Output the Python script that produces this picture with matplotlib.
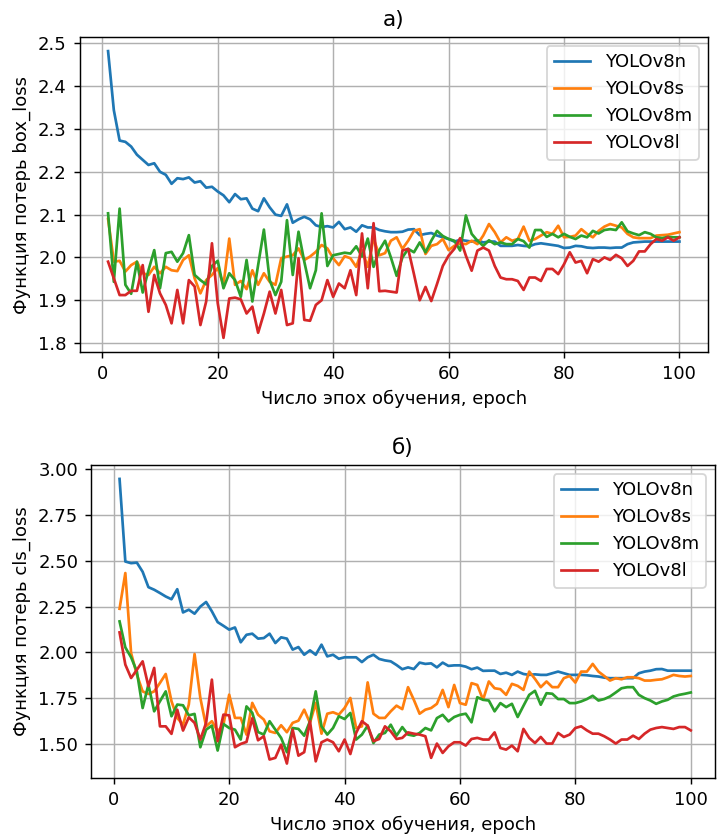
import matplotlib
matplotlib.use("Agg")
import matplotlib.pyplot as plt
import numpy as np

epochs = np.arange(1, 101)
labels = ["YOLOv8n", "YOLOv8s", "YOLOv8m", "YOLOv8l"]

box_n = [2.482, 2.344, 2.273, 2.270, 2.259, 2.240, 2.228, 2.216, 2.220, 2.200,
         2.193, 2.172, 2.185, 2.183, 2.187, 2.175, 2.178, 2.163, 2.165, 2.154,
         2.145, 2.129, 2.148, 2.136, 2.138, 2.114, 2.108, 2.138, 2.117, 2.100,
         2.097, 2.124, 2.081, 2.089, 2.095, 2.089, 2.075, 2.071, 2.073, 2.070,
         2.083, 2.066, 2.070, 2.060, 2.075, 2.070, 2.070, 2.064, 2.061, 2.059,
         2.059, 2.060, 2.065, 2.066, 2.052, 2.055, 2.057, 2.051, 2.047, 2.043,
         2.037, 2.041, 2.039, 2.037, 2.040, 2.035, 2.037, 2.037, 2.027, 2.027,
         2.027, 2.029, 2.027, 2.026, 2.031, 2.033, 2.031, 2.029, 2.027, 2.022,
         2.023, 2.027, 2.026, 2.023, 2.022, 2.023, 2.023, 2.022, 2.023, 2.023,
         2.031, 2.035, 2.036, 2.037, 2.037, 2.037, 2.037, 2.037, 2.037, 2.037]
box_s = [2.090, 1.990, 1.992, 1.967, 1.982, 1.990, 1.963, 1.959, 1.978, 1.963,
         1.978, 1.970, 1.968, 1.994, 2.005, 1.951, 1.916, 1.947, 1.959, 1.975,
         1.936, 2.044, 1.936, 1.945, 1.926, 1.970, 1.936, 1.963, 1.943, 1.936,
         1.998, 2.002, 2.005, 2.021, 1.994, 2.002, 2.013, 2.029, 2.021, 1.998,
         1.982, 2.003, 1.998, 1.978, 2.017, 1.978, 2.044, 2.005, 2.010, 2.039,
         2.047, 2.020, 2.039, 2.062, 2.066, 2.008, 2.027, 2.031, 2.043, 2.017,
         2.027, 2.033, 2.031, 2.039, 2.031, 2.051, 2.078, 2.059, 2.035, 2.047,
         2.039, 2.043, 2.072, 2.039, 2.043, 2.051, 2.059, 2.055, 2.074, 2.047,
         2.048, 2.051, 2.066, 2.055, 2.047, 2.062, 2.072, 2.078, 2.074, 2.070,
         2.055, 2.047, 2.045, 2.045, 2.045, 2.051, 2.052, 2.053, 2.056, 2.059]
box_m = [2.103, 1.943, 2.114, 1.936, 1.915, 1.990, 1.918, 1.970, 2.017, 1.928,
         2.010, 2.013, 1.990, 2.010, 2.052, 1.959, 1.947, 1.937, 1.980, 1.992,
         1.928, 1.963, 1.947, 1.908, 1.994, 1.897, 1.982, 2.065, 1.947, 1.912,
         1.943, 2.087, 1.959, 2.060, 1.990, 1.928, 1.970, 2.103, 1.980, 2.005,
         2.008, 2.011, 2.009, 2.026, 2.002, 2.044, 1.978, 2.017, 2.039, 2.000,
         1.957, 2.000, 2.020, 2.012, 2.035, 2.012, 2.039, 2.062, 2.050, 2.043,
         2.039, 2.016, 2.098, 2.055, 2.039, 2.027, 2.040, 2.031, 2.035, 2.031,
         2.031, 2.043, 2.038, 2.023, 2.064, 2.064, 2.048, 2.055, 2.047, 2.055,
         2.048, 2.043, 2.051, 2.047, 2.062, 2.056, 2.064, 2.066, 2.064, 2.082,
         2.061, 2.056, 2.052, 2.059, 2.055, 2.047, 2.045, 2.048, 2.047, 2.047]
box_l = [1.990, 1.951, 1.912, 1.912, 1.922, 1.922, 1.982, 1.873, 1.959, 1.916,
         1.889, 1.846, 1.924, 1.846, 1.947, 1.932, 1.842, 1.897, 2.033, 1.893,
         1.812, 1.904, 1.906, 1.902, 1.869, 1.885, 1.824, 1.869, 1.920, 1.869,
         1.924, 1.842, 1.846, 1.998, 1.854, 1.852, 1.889, 1.900, 1.947, 1.908,
         1.939, 1.928, 1.970, 1.912, 2.056, 1.928, 2.080, 1.921, 1.922, 1.920,
         1.918, 2.016, 2.020, 1.961, 1.900, 1.931, 1.898, 1.938, 1.980, 2.004,
         2.020, 2.045, 2.004, 1.969, 2.016, 2.023, 2.016, 1.980, 1.953, 1.949,
         1.949, 1.945, 1.924, 1.953, 1.953, 1.945, 1.973, 1.973, 1.961, 1.984,
         2.012, 1.988, 1.992, 1.963, 1.996, 1.990, 2.000, 1.994, 2.006, 1.998,
         1.980, 1.992, 2.014, 2.014, 2.031, 2.043, 2.039, 2.047, 2.039, 2.047]

cls_n = [2.947, 2.496, 2.487, 2.490, 2.440, 2.356, 2.342, 2.324, 2.305, 2.290,
         2.345, 2.218, 2.233, 2.211, 2.250, 2.275, 2.224, 2.165, 2.145, 2.124,
         2.136, 2.055, 2.096, 2.102, 2.075, 2.078, 2.102, 2.051, 2.082, 2.075,
         2.015, 2.029, 1.987, 2.011, 1.987, 2.042, 1.978, 1.987, 1.965, 1.973,
         1.973, 1.973, 1.947, 1.973, 1.987, 1.964, 1.956, 1.951, 1.931, 1.908,
         1.918, 1.909, 1.944, 1.937, 1.940, 1.918, 1.944, 1.926, 1.929, 1.929,
         1.922, 1.908, 1.917, 1.899, 1.900, 1.900, 1.882, 1.889, 1.877, 1.895,
         1.882, 1.877, 1.880, 1.877, 1.877, 1.886, 1.895, 1.886, 1.877, 1.877,
         1.877, 1.875, 1.871, 1.868, 1.862, 1.859, 1.859, 1.859, 1.859, 1.859,
         1.886, 1.895, 1.900, 1.908, 1.909, 1.900, 1.900, 1.900, 1.900, 1.900]
cls_s = [2.238, 2.433, 1.996, 1.878, 1.787, 1.773, 1.787, 1.833, 1.882, 1.733,
         1.642, 1.605, 1.715, 1.991, 1.751, 1.596, 1.624, 1.569, 1.605, 1.769,
         1.642, 1.642, 1.551, 1.724, 1.660, 1.633, 1.569, 1.560, 1.602, 1.564,
         1.615, 1.627, 1.687, 1.615, 1.724, 1.556, 1.665, 1.673, 1.660, 1.696,
         1.751, 1.587, 1.596, 1.836, 1.665, 1.642, 1.642, 1.678, 1.709, 1.690,
         1.810, 1.741, 1.665, 1.687, 1.696, 1.719, 1.795, 1.701, 1.822, 1.723,
         1.714, 1.832, 1.822, 1.741, 1.841, 1.804, 1.799, 1.768, 1.828, 1.817,
         1.795, 1.895, 1.855, 1.810, 1.841, 1.810, 1.810, 1.859, 1.871, 1.835,
         1.895, 1.895, 1.937, 1.895, 1.871, 1.846, 1.859, 1.853, 1.864, 1.864,
         1.859, 1.846, 1.846, 1.850, 1.853, 1.864, 1.877, 1.871, 1.868, 1.871]
cls_m = [2.169, 2.027, 1.973, 1.896, 1.696, 1.824, 1.678, 1.733, 1.787, 1.651,
         1.715, 1.711, 1.656, 1.664, 1.482, 1.578, 1.600, 1.464, 1.609, 1.587,
         1.578, 1.524, 1.705, 1.670, 1.565, 1.551, 1.624, 1.578, 1.533, 1.455,
         1.587, 1.582, 1.545, 1.624, 1.787, 1.596, 1.551, 1.587, 1.651, 1.636,
         1.669, 1.524, 1.551, 1.600, 1.505, 1.551, 1.560, 1.605, 1.545, 1.592,
         1.551, 1.545, 1.560, 1.587, 1.574, 1.641, 1.659, 1.623, 1.647, 1.659,
         1.665, 1.618, 1.755, 1.741, 1.737, 1.678, 1.723, 1.701, 1.719, 1.647,
         1.708, 1.768, 1.790, 1.714, 1.777, 1.774, 1.745, 1.745, 1.723, 1.723,
         1.732, 1.745, 1.763, 1.737, 1.745, 1.759, 1.781, 1.804, 1.810, 1.810,
         1.768, 1.750, 1.737, 1.719, 1.732, 1.741, 1.759, 1.768, 1.774, 1.781]
cls_l = [2.109, 1.933, 1.860, 1.905, 1.951, 1.815, 1.915, 1.596, 1.596, 1.555,
         1.687, 1.573, 1.645, 1.615, 1.524, 1.615, 1.851, 1.515, 1.660, 1.656,
         1.482, 1.500, 1.511, 1.640, 1.520, 1.542, 1.415, 1.424, 1.496, 1.393,
         1.578, 1.436, 1.455, 1.624, 1.405, 1.509, 1.524, 1.509, 1.460, 1.524,
         1.445, 1.560, 1.624, 1.600, 1.515, 1.527, 1.596, 1.569, 1.527, 1.533,
         1.563, 1.556, 1.551, 1.542, 1.424, 1.502, 1.451, 1.487, 1.509, 1.509,
         1.491, 1.527, 1.533, 1.524, 1.524, 1.563, 1.478, 1.469, 1.491, 1.460,
         1.582, 1.533, 1.505, 1.538, 1.502, 1.502, 1.560, 1.538, 1.551, 1.587,
         1.596, 1.574, 1.556, 1.556, 1.542, 1.524, 1.502, 1.524, 1.524, 1.545,
         1.527, 1.556, 1.578, 1.587, 1.592, 1.587, 1.582, 1.592, 1.592, 1.574]

W, H, DPI = 717, 837, 130
fig = plt.figure(figsize=(W / DPI, H / DPI), dpi=DPI)
plt.rcParams["font.size"] = 10


def px_axes(left, top, right, bottom):
    return fig.add_axes([left / W, 1 - bottom / H, (right - left) / W, (bottom - top) / H])


ax1 = px_axes(79.5, 37, 708, 352)
for series, lab in zip([box_n, box_s, box_m, box_l], labels):
    ax1.plot(epochs, series, label=lab, linewidth=1.5)
ax1.set_xlim(-3.95, 104.95)
ax1.set_ylim(1.779, 2.515)
ax1.grid(True)
ax1.legend(loc="upper right")
ax1.set_title("а)")
ax1.set_xlabel("Число эпох обучения, epoch")
ax1.set_ylabel("Функция потерь box_loss")

ax2 = px_axes(91, 465, 715, 778)
for series, lab in zip([cls_n, cls_s, cls_m, cls_l], labels):
    ax2.plot(epochs, series, label=lab, linewidth=1.5)
ax2.set_xlim(-3.95, 104.2)
ax2.set_ylim(1.314, 3.023)
ax2.set_yticks([1.5, 1.75, 2.0, 2.25, 2.5, 2.75, 3.0])
ax2.grid(True)
ax2.legend(loc="upper right")
ax2.set_title("б)")
ax2.set_xlabel("Число эпох обучения, epoch")
ax2.set_ylabel("Функция потерь cls_loss")

fig.savefig("out.png", dpi=DPI)
